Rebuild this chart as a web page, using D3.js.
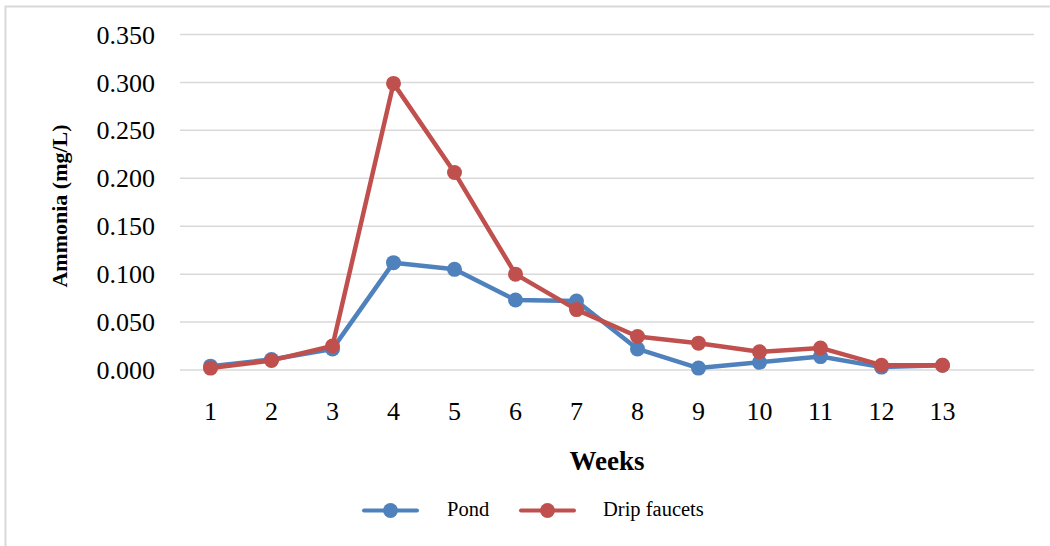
<!DOCTYPE html>
<html>
<head>
<meta charset="utf-8">
<script src="https://cdn.jsdelivr.net/npm/d3@7"></script>
<style>
  body { margin: 0; background: #fff; }
  text { font-family: "Liberation Serif", "Times New Roman", serif; }
</style>
</head>
<body>
<svg id="chart" width="1050" height="546"></svg>
<script>
const weeks = ["1","2","3","4","5","6","7","8","9","10","11","12","13"];
const pond = [0.004, 0.011, 0.022, 0.112, 0.105, 0.073, 0.072, 0.022, 0.002, 0.008, 0.014, 0.003, 0.005];
const drip = [0.002, 0.010, 0.025, 0.299, 0.206, 0.100, 0.063, 0.035, 0.028, 0.019, 0.023, 0.005, 0.005];
const yTicks = [0, 0.05, 0.1, 0.15, 0.2, 0.25, 0.3, 0.35];

const series = [
  { name: "Pond", values: pond, color: "#4F81BD" },
  { name: "Drip faucets", values: drip, color: "#C0504D" }
];

const svg = d3.select("#chart");

// chart frame: only left and top edges show in the original
svg.append("path")
   .attr("d", "M5.5,546V6.5H1050")
   .attr("fill", "none")
   .attr("stroke", "#D9D9D9")
   .attr("stroke-width", 2);

const plotLeft = 180, plotRight = 1034, plotTop = 34.5, plotBottom = 370;

// 14 slots, last one empty (as in the original)
const x = d3.scaleBand()
  .domain(weeks.concat([""]))
  .range([plotLeft, plotRight]);

const y = d3.scaleLinear()
  .domain([0, 0.35])
  .range([plotBottom, plotTop]);

// gridlines
svg.append("g")
   .selectAll("line")
   .data(yTicks)
   .join("line")
     .attr("x1", plotLeft).attr("x2", plotRight)
     .attr("y1", d => y(d)).attr("y2", d => y(d))
     .attr("stroke", "#D9D9D9")
     .attr("stroke-width", 1.5);

// y tick labels
svg.append("g")
   .selectAll("text")
   .data(yTicks)
   .join("text")
     .attr("x", 155)
     .attr("y", d => y(d))
     .attr("dy", "0.35em")
     .attr("text-anchor", "end")
     .attr("font-size", 26)
     .text(d => d3.format(".3f")(d));

// x tick labels
svg.append("g")
   .selectAll("text")
   .data(weeks)
   .join("text")
     .attr("x", d => x(d) + x.bandwidth() / 2)
     .attr("y", 419.5)
     .attr("text-anchor", "middle")
     .attr("font-size", 26)
     .text(d => d);

// axis titles
svg.append("text")
   .attr("x", 607).attr("y", 470)
   .attr("text-anchor", "middle")
   .attr("font-size", 27)
   .attr("font-weight", "bold")
   .text("Weeks");

svg.append("text")
   .attr("transform", "translate(67,206) rotate(-90)")
   .attr("text-anchor", "middle")
   .attr("font-size", 22)
   .attr("font-weight", "bold")
   .text("Ammonia (mg/L)");

// lines + markers
const line = d3.line()
  .x((d, i) => x(weeks[i]) + x.bandwidth() / 2)
  .y(d => y(d));

series.forEach(s => {
  svg.append("path")
     .datum(s.values)
     .attr("d", line)
     .attr("fill", "none")
     .attr("stroke", s.color)
     .attr("stroke-width", 4.5)
     .attr("stroke-linejoin", "round");

  svg.append("g")
     .selectAll("circle")
     .data(s.values)
     .join("circle")
       .attr("cx", (d, i) => x(weeks[i]) + x.bandwidth() / 2)
       .attr("cy", d => y(d))
       .attr("r", 7.5)
       .attr("fill", s.color);
});

// legend
const legendItems = [
  { s: series[0], x0: 364, tx: 447 },
  { s: series[1], x0: 521, tx: 603 }
];
legendItems.forEach(l => {
  svg.append("line")
     .attr("x1", l.x0).attr("x2", l.x0 + 53)
     .attr("y1", 510.5).attr("y2", 510.5)
     .attr("stroke", l.s.color)
     .attr("stroke-width", 4)
     .attr("stroke-linecap", "round");
  svg.append("circle")
     .attr("cx", l.x0 + 26.5).attr("cy", 510.5)
     .attr("r", 7.5)
     .attr("fill", l.s.color);
  svg.append("text")
     .attr("x", l.tx).attr("y", 516)
     .attr("font-size", 20.5)
     .text(l.s.name);
});
</script>
</body>
</html>
